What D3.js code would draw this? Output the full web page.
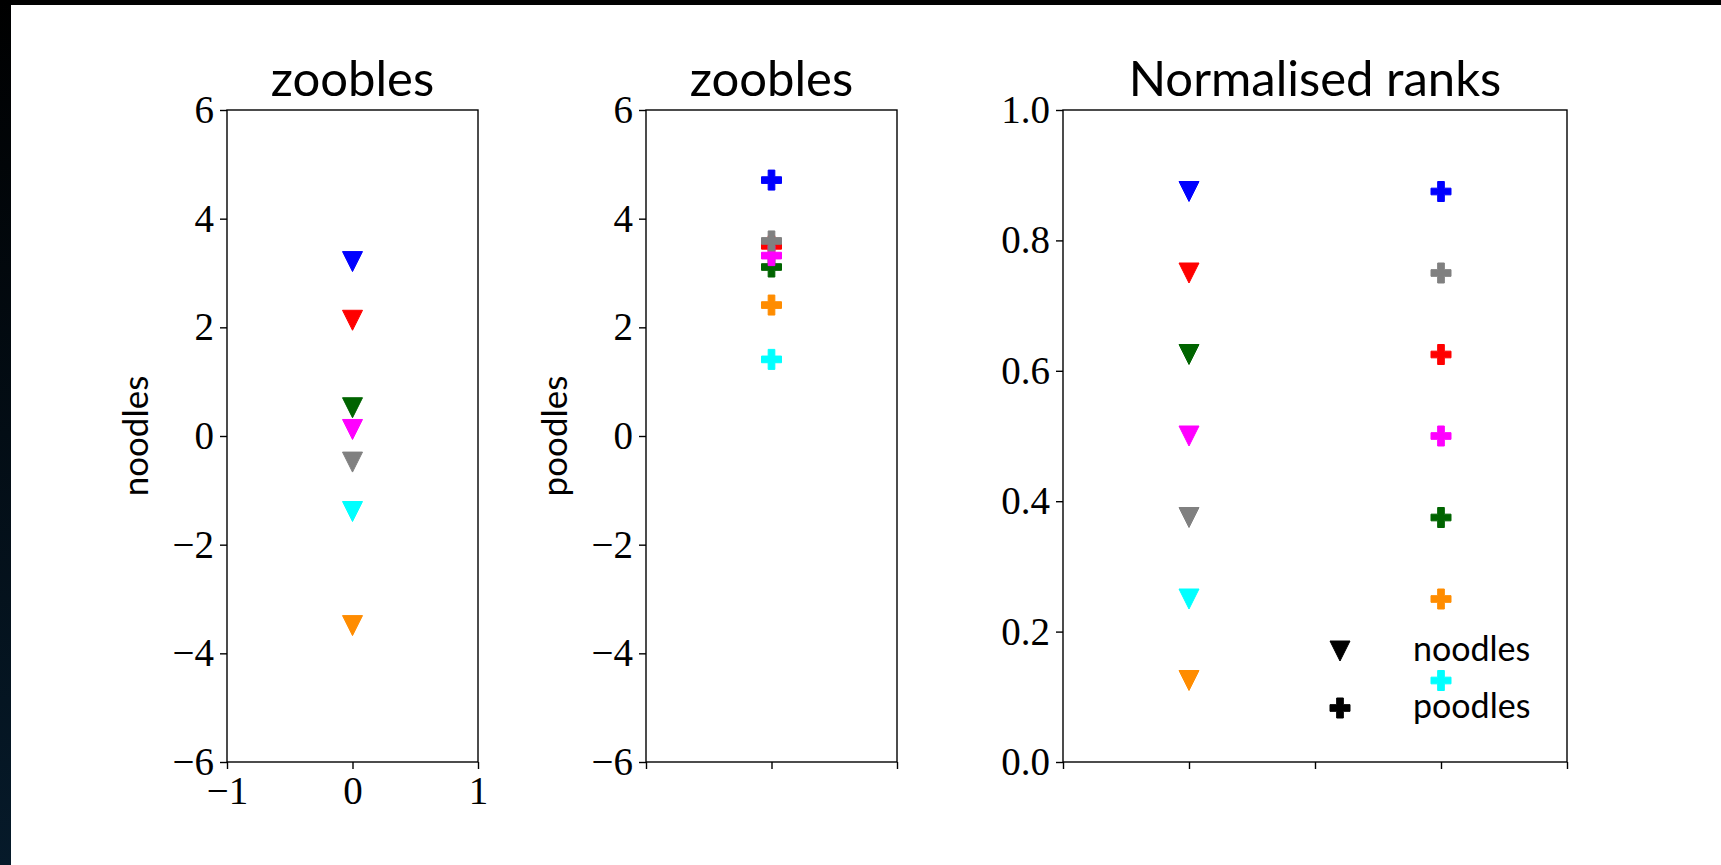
<!DOCTYPE html>
<html>
<head>
<meta charset="utf-8">
<script src="https://cdn.jsdelivr.net/npm/d3@7"></script>
<style>
  body { margin: 0; background: #fff; }
  svg { display: block; }
</style>
</head>
<body>
<script>
// marker colours, same order for both series
const colors = ["#0000ff", "#ff0000", "#006400", "#ff00ff", "#808080", "#00ffff", "#ff8c00"];
// raw values
const noodles = [3.21, 2.13, 0.52, 0.12, -0.48, -1.39, -3.49];
const poodles = [4.71, 3.50, 3.11, 3.32, 3.59, 1.41, 2.41];
// normalised ranks shown in the right panel
const noodleRanks = [0.875, 0.75, 0.625, 0.5, 0.375, 0.25, 0.125];
const poodleRanks = [0.875, 0.625, 0.375, 0.5, 0.75, 0.125, 0.25];
const rawTicks = [-6, -4, -2, 0, 2, 4, 6];
const rankTicks = [0, 0.2, 0.4, 0.6, 0.8, 1.0];
const legendItems = ["noodles", "poodles"];

const W = 1721, H = 865;
const plotTop = 110, plotBottom = 762;
const serif = "'Liberation Serif', serif";
const sans = "Lato, 'Open Sans', sans-serif";

const svg = d3.select("body").append("svg")
  .attr("width", W)
  .attr("height", H);

// dark strip of the window behind the figure
const grad = svg.append("defs").append("linearGradient")
  .attr("id", "dark").attr("x1", 0).attr("y1", 0).attr("x2", 0).attr("y2", 1);
grad.append("stop").attr("offset", "0%").attr("stop-color", "#000000");
grad.append("stop").attr("offset", "100%").attr("stop-color", "#061a2a");
svg.append("rect").attr("x", 0).attr("y", 0).attr("width", W).attr("height", 5).attr("fill", "#020202");
svg.append("rect").attr("x", 0).attr("y", 0).attr("width", 11).attr("height", H).attr("fill", "url(#dark)");

const tri = d3.symbol().type({
  draw(ctx, size) {
    const r = Math.sqrt(size) / 2;
    ctx.moveTo(-r, -r); ctx.lineTo(r, -r); ctx.lineTo(0, r); ctx.closePath();
  }
}).size(20 * 20);
const plus = d3.symbol().type({
  draw(ctx, size) {
    const a = Math.sqrt(size) / 2, b = a / 3;
    ctx.moveTo(-b, -a); ctx.lineTo(b, -a); ctx.lineTo(b, -b); ctx.lineTo(a, -b);
    ctx.lineTo(a, b); ctx.lineTo(b, b); ctx.lineTo(b, a); ctx.lineTo(-b, a);
    ctx.lineTo(-b, b); ctx.lineTo(-a, b); ctx.lineTo(-a, -b); ctx.lineTo(-b, -b);
    ctx.closePath();
  }
}).size(20 * 20);

function panel(opt) {
  const x = d3.scaleLinear().domain(opt.xDomain).range([opt.left, opt.right]);
  const y = d3.scaleLinear().domain(opt.yDomain).range([plotBottom, plotTop]);
  const g = svg.append("g");

  const ya = g.append("g")
    .attr("transform", `translate(${opt.left},0)`)
    .call(d3.axisLeft(y).tickValues(opt.yTicks).tickFormat(opt.yFormat)
      .tickSize(7).tickSizeOuter(0).tickPadding(6));
  const xa = g.append("g")
    .attr("transform", `translate(0,${plotBottom})`)
    .call(d3.axisBottom(x).tickValues(opt.xTicks).tickFormat(opt.xFormat)
      .tickSize(7).tickSizeOuter(0).tickPadding(7));
  [ya, xa].forEach(a => {
    a.select(".domain").remove();
    a.selectAll(".tick line").attr("stroke", "#000").attr("stroke-width", 1.4);
    a.selectAll(".tick text").attr("fill", "#000")
      .style("font-family", serif).style("font-size", "39px");
  });

  g.append("rect")
    .attr("x", opt.left).attr("y", plotTop)
    .attr("width", opt.right - opt.left).attr("height", plotBottom - plotTop)
    .attr("fill", "none").attr("stroke", "#000").attr("stroke-width", 1.4);

  g.append("text")
    .attr("x", (opt.left + opt.right) / 2).attr("y", 96)
    .attr("text-anchor", "middle")
    .style("font-family", sans).style("font-size", "49px")
    .text(opt.title);

  if (opt.ylabel) {
    g.append("text")
      .attr("transform", `translate(${opt.left - 79},${(plotTop + plotBottom) / 2}) rotate(-90)`)
      .attr("text-anchor", "middle")
      .style("font-family", sans).style("font-size", "35px")
      .text(opt.ylabel);
  }
  return { g, x, y };
}

// panel 1: noodles
const p1 = panel({
  left: 227, right: 478, xDomain: [-1, 1], yDomain: [-6, 6],
  xTicks: [-1, 0, 1], xFormat: d3.format("d"), yTicks: rawTicks, yFormat: d3.format("d"),
  title: "zoobles", ylabel: "noodles"
});
p1.g.selectAll("path.pt").data(noodles).join("path")
  .attr("class", "pt")
  .attr("d", tri)
  .attr("transform", d => `translate(${p1.x(0)},${p1.y(d)})`)
  .attr("fill", (d, i) => colors[i]).attr("stroke", (d, i) => colors[i]).attr("stroke-width", 1);

// panel 2: poodles
const p2 = panel({
  left: 646, right: 897, xDomain: [-1, 1], yDomain: [-6, 6],
  xTicks: [-1, 0, 1], xFormat: () => "", yTicks: rawTicks, yFormat: d3.format("d"),
  title: "zoobles", ylabel: "poodles"
});
p2.g.selectAll("path.pt").data(poodles).join("path")
  .attr("class", "pt")
  .attr("d", plus)
  .attr("transform", d => `translate(${p2.x(0)},${p2.y(d)})`)
  .attr("fill", (d, i) => colors[i]).attr("stroke", (d, i) => colors[i]).attr("stroke-width", 1);

// panel 3: normalised ranks
const p3 = panel({
  left: 1063, right: 1567, xDomain: [0, 4], yDomain: [0, 1],
  xTicks: [0, 1, 2, 3, 4], xFormat: () => "", yTicks: rankTicks, yFormat: d3.format(".1f"),
  title: "Normalised ranks"
});
p3.g.selectAll("path.nr").data(noodleRanks).join("path")
  .attr("class", "nr")
  .attr("d", tri)
  .attr("transform", d => `translate(${p3.x(1)},${p3.y(d)})`)
  .attr("fill", (d, i) => colors[i]).attr("stroke", (d, i) => colors[i]).attr("stroke-width", 1);
p3.g.selectAll("path.pr").data(poodleRanks).join("path")
  .attr("class", "pr")
  .attr("d", plus)
  .attr("transform", d => `translate(${p3.x(3)},${p3.y(d)})`)
  .attr("fill", (d, i) => colors[i]).attr("stroke", (d, i) => colors[i]).attr("stroke-width", 1);

// legend, no frame
const leg = svg.append("g").attr("transform", "translate(1340,651)");
legendItems.forEach((name, i) => {
  const row = leg.append("g").attr("transform", `translate(0,${i * 57})`);
  row.append("path").attr("d", i === 0 ? tri : plus)
    .attr("fill", "#000").attr("stroke", "#000").attr("stroke-width", 1);
  row.append("text")
    .attr("x", 73).attr("y", 10)
    .style("font-family", sans).style("font-size", "34px")
    .text(name);
});
</script>
</body>
</html>
